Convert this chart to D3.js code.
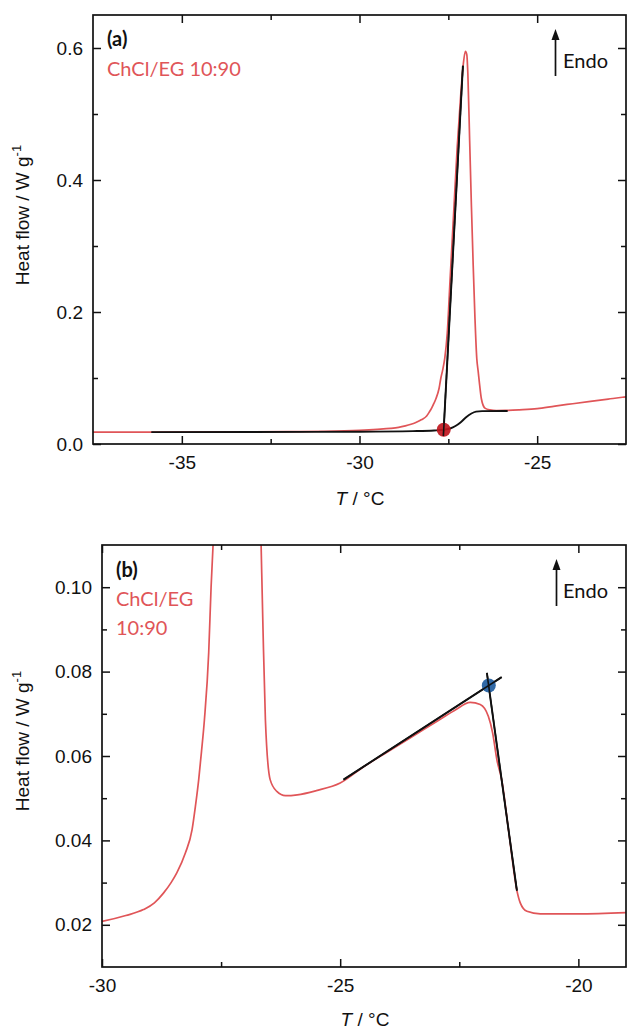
<!DOCTYPE html>
<html>
<head>
<meta charset="utf-8">
<script src="https://cdn.jsdelivr.net/npm/d3@7"></script>
<style>
  body { margin: 0; background: #fff; }
  svg { display: block; }
  .tick text { font-family: "Liberation Sans", Arial, sans-serif; font-size: 19px; fill: #111; }
  .tick line { stroke: #111; stroke-width: 1.5; }
</style>
</head>
<body>
<script>
// DSC trace (same measurement shown in both panels): temperature / heat flow
var redT = [-37.5, -36, -34, -32, -31, -30, -29.5, -29.13, -28.9, -28.71, -28.55, -28.43, -28.25, -28.11,
  -28.04, -27.97, -27.91, -27.85, -27.76, -27.71, -27.66, -27.6, -27.53, -27.45, -27.35, -27.25, -27.15, -27.08,
  -27.02, -26.98, -26.95, -26.9, -26.85, -26.8, -26.75, -26.7, -26.66, -26.62, -26.57, -26.47, -26.33,
  -26.15, -25.9, -25.5, -25.0, -24.5, -24.0, -23.5, -23.0, -22.6, -22.27, -22.06, -21.89, -21.8,
  -21.71, -21.61, -21.45, -21.29, -21.22, -21.08, -20.8, -20.0, -19.0];
var redQ = [0.0180, 0.0181, 0.0183, 0.0187, 0.0193, 0.0208, 0.0222, 0.0236, 0.0252, 0.0275, 0.0300, 0.0323, 0.0370, 0.0425,
  0.0480, 0.0544, 0.0612, 0.0686, 0.0845, 0.100, 0.112, 0.130, 0.168, 0.250, 0.350, 0.450, 0.530, 0.575,
  0.595, 0.590, 0.560, 0.460, 0.360, 0.270, 0.190, 0.130, 0.110, 0.090, 0.0686, 0.0544, 0.0516,
  0.0506, 0.0508, 0.0518, 0.0536, 0.0575, 0.0610, 0.0645, 0.0680, 0.0708, 0.0727, 0.0722, 0.0694, 0.0655,
  0.0591, 0.0544, 0.0410, 0.0281, 0.0252, 0.0232, 0.0226, 0.0226, 0.0229];

// panel (a) construction: sigmoidal baseline + leading-edge tangent, onset point
var baseT = [-35.86, -33, -30, -28.5, -27.9, -27.63, -27.45, -27.3, -27.15, -27.0, -26.85, -26.72, -26.55, -25.83];
var baseQ = [0.0180, 0.0182, 0.0186, 0.0195, 0.0205, 0.0216, 0.0235, 0.0272, 0.0330, 0.0405, 0.0462, 0.0490, 0.0498, 0.0500];
var tanAT = [-27.64, -27.09];
var tanAQ = [0.012, 0.573];
var onsetA = [-27.63, 0.0216];

// panel (b) construction: two tangents and their intersection
var tanB1T = [-24.93, -21.61];
var tanB1Q = [0.0544, 0.0787];
var tanB2T = [-21.92, -21.29];
var tanB2Q = [0.0797, 0.0281];
var pointB = [-21.88, 0.0767];

var xTicksA = [-35, -30, -25], xMinorA = [-32.5, -27.5];
var yTicksA = [0, 0.2, 0.4, 0.6], yMinorA = [0.1, 0.3, 0.5];
var xTicksB = [-30, -25, -20], xMinorB = [-27.5, -22.5];
var yTicksB = [0.02, 0.04, 0.06, 0.08, 0.10], yMinorB = [0.03, 0.05, 0.07, 0.09];

var RED = "#e05558";
var W = 627, H = 1031;

var svg = d3.select("body").append("svg").attr("width", W).attr("height", H);
var defs = svg.append("defs");

function zip(a, b) { return a.map(function(v, i) { return [v, b[i]]; }); }

function panel(cfg) {
  var x = d3.scaleLinear().domain(cfg.xd).range([cfg.left, cfg.right]);
  var y = d3.scaleLinear().domain(cfg.yd).range([cfg.bottom, cfg.top]);
  var g = svg.append("g");

  defs.append("clipPath").attr("id", "clip" + cfg.id)
    .append("rect").attr("x", cfg.left).attr("y", cfg.top)
    .attr("width", cfg.right - cfg.left).attr("height", cfg.bottom - cfg.top);

  var line = d3.line().x(function(d) { return x(d[0]); }).y(function(d) { return y(d[1]); });
  var smooth = d3.line().curve(d3.curveMonotoneX)
    .x(function(d) { return x(d[0]); }).y(function(d) { return y(d[1]); });

  var plot = g.append("g").attr("clip-path", "url(#clip" + cfg.id + ")");
  plot.append("path").datum(zip(redT, redQ)).attr("d", smooth)
    .attr("fill", "none").attr("stroke", RED).attr("stroke-width", 1.7);
  cfg.black.forEach(function(b) {
    plot.append("path").datum(b.data).attr("d", b.smooth ? smooth : line)
      .attr("fill", "none").attr("stroke", "#111").attr("stroke-width", 1.9);
  });
  plot.append("circle").attr("cx", x(cfg.dot[0])).attr("cy", y(cfg.dot[1])).attr("r", 7)
    .attr("fill", cfg.dotColor).attr("fill-opacity", 0.92);
  // redraw crossing lines over the dot
  cfg.black.forEach(function(b) {
    if (!b.smooth) plot.append("path").datum(b.data).attr("d", line)
      .attr("fill", "none").attr("stroke", "#111").attr("stroke-width", 1.5);
  });

  // axes, ticks pointing inward
  g.append("g").attr("transform", "translate(0," + cfg.bottom + ")")
    .call(d3.axisBottom(x).tickValues(cfg.xt).tickSizeInner(-8).tickSizeOuter(0).tickPadding(12).tickFormat(function(d) { return String(d); }));
  g.append("g").attr("transform", "translate(0," + cfg.bottom + ")")
    .call(d3.axisBottom(x).tickValues(cfg.xm).tickSizeInner(-5).tickSizeOuter(0).tickFormat(""));
  g.append("g").attr("transform", "translate(0," + cfg.top + ")")
    .call(d3.axisTop(x).tickValues(cfg.xt).tickSizeInner(-8).tickSizeOuter(0).tickFormat(""));
  g.append("g").attr("transform", "translate(0," + cfg.top + ")")
    .call(d3.axisTop(x).tickValues(cfg.xm).tickSizeInner(-5).tickSizeOuter(0).tickFormat(""));
  g.append("g").attr("transform", "translate(" + cfg.left + ",0)")
    .call(d3.axisLeft(y).tickValues(cfg.yt).tickSizeInner(-8).tickSizeOuter(0).tickPadding(10).tickFormat(d3.format(cfg.yf)));
  g.append("g").attr("transform", "translate(" + cfg.left + ",0)")
    .call(d3.axisLeft(y).tickValues(cfg.ym).tickSizeInner(-5).tickSizeOuter(0).tickFormat(""));
  g.append("g").attr("transform", "translate(" + cfg.right + ",0)")
    .call(d3.axisRight(y).tickValues(cfg.yt).tickSizeInner(-8).tickSizeOuter(0).tickFormat(""));
  g.append("g").attr("transform", "translate(" + cfg.right + ",0)")
    .call(d3.axisRight(y).tickValues(cfg.ym).tickSizeInner(-5).tickSizeOuter(0).tickFormat(""));
  g.selectAll(".domain").remove();

  g.append("rect").attr("x", cfg.left).attr("y", cfg.top)
    .attr("width", cfg.right - cfg.left).attr("height", cfg.bottom - cfg.top)
    .attr("fill", "none").attr("stroke", "#111").attr("stroke-width", 1.7);

  // axis titles
  var xl = g.append("text").attr("x", cfg.xlab[0]).attr("y", cfg.xlab[1]).attr("text-anchor", "middle")
    .style("font-family", "Liberation Sans, Arial, sans-serif").style("font-size", "19px").attr("fill", "#111");
  xl.append("tspan").style("font-style", "italic").text("T");
  xl.append("tspan").text(" / °C");

  var yl = g.append("text").attr("transform", "translate(" + cfg.ylab[0] + "," + cfg.ylab[1] + ") rotate(-90)")
    .attr("text-anchor", "middle")
    .style("font-family", "Liberation Sans, Arial, sans-serif").style("font-size", "19px").attr("fill", "#111");
  yl.append("tspan").text("Heat flow / W g");
  yl.append("tspan").attr("dy", -8).style("font-size", "13px").text("-1");

  // annotations
  var ann = "Lato, 'Open Sans', sans-serif";
  g.append("text").attr("x", cfg.tag[0]).attr("y", cfg.tag[1]).text(cfg.tagText)
    .style("font-family", ann).style("font-size", "20px").style("font-weight", "bold").attr("fill", "#111");
  cfg.sample.forEach(function(s) {
    g.append("text").attr("x", s[0]).attr("y", s[1]).text(s[2])
      .style("font-family", ann).style("font-size", "20px").attr("fill", RED);
  });
  var ax0 = cfg.arrow[0], top = cfg.arrow[1], bot = cfg.arrow[2];
  g.append("line").attr("x1", ax0).attr("x2", ax0).attr("y1", bot).attr("y2", top + 8)
    .attr("stroke", "#111").attr("stroke-width", 1.7);
  g.append("path").attr("d", "M" + ax0 + "," + top + "L" + (ax0 + 4) + "," + (top + 11) + "L" + (ax0 - 4) + "," + (top + 11) + "Z")
    .attr("fill", "#111");
  g.append("text").attr("x", cfg.endo[0]).attr("y", cfg.endo[1]).text("Endo")
    .style("font-family", ann).style("font-size", "20px").attr("fill", "#111");
}

panel({
  id: "a", xd: [-37.5, -22.5], yd: [0, 0.65],
  left: 93, right: 626, top: 15, bottom: 444,
  xt: xTicksA, xm: xMinorA, yt: yTicksA, ym: yMinorA, yf: ".1f",
  black: [{ data: zip(baseT, baseQ), smooth: true }, { data: zip(tanAT, tanAQ) }],
  dot: onsetA, dotColor: "#c0161e",
  xlab: [360, 505], ylab: [29, 215],
  tag: [107, 46], tagText: "(a)",
  sample: [[107, 76, "ChCl/EG 10:90"]],
  arrow: [555.5, 29, 76], endo: [563, 68]
});

panel({
  id: "b", xd: [-30, -19], yd: [0.01, 0.11],
  left: 102, right: 626, top: 545, bottom: 967,
  xt: xTicksB, xm: xMinorB, yt: yTicksB, ym: yMinorB, yf: ".2f",
  black: [{ data: zip(tanB1T, tanB1Q) }, { data: zip(tanB2T, tanB2Q) }],
  dot: pointB, dotColor: "#1f5c9e",
  xlab: [365, 1026], ylab: [29, 741],
  tag: [116, 577], tagText: "(b)",
  sample: [[116, 606, "ChCl/EG"], [116, 635, "10:90"]],
  arrow: [556.5, 559, 606], endo: [563, 598]
});
</script>
</body>
</html>
